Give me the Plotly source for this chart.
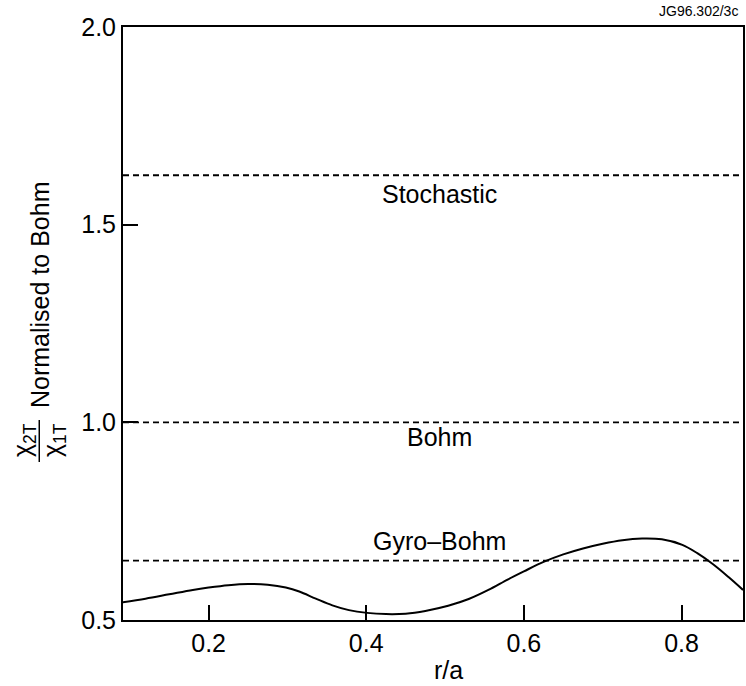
import plotly.graph_objects as go

# ---- data ----
r_a = [0.091, 0.120, 0.150, 0.180, 0.200, 0.225, 0.250, 0.275, 0.298, 0.315,
       0.336, 0.357, 0.378, 0.401, 0.425, 0.450, 0.475, 0.504, 0.530, 0.555,
       0.580, 0.600, 0.625, 0.650, 0.675, 0.700, 0.725, 0.750, 0.775, 0.801,
       0.820, 0.840, 0.860, 0.878]
chi_ratio = [0.545, 0.554, 0.565, 0.576, 0.582, 0.588, 0.591, 0.589, 0.582, 0.572,
             0.554, 0.537, 0.525, 0.518, 0.515, 0.516, 0.523, 0.536, 0.553, 0.576,
             0.603, 0.623, 0.647, 0.666, 0.681, 0.693, 0.702, 0.706, 0.704, 0.690,
             0.669, 0.641, 0.608, 0.576]

ref_names = ["Stochastic", "Bohm", "Gyro\u2013Bohm"]
ref_values = [1.625, 1.0, 0.65]
ref_label_y = [1.578, 0.962, 0.700]
label_x = 0.493

x_range = [0.0914, 0.878]
y_range = [0.5, 2.0]
x_ticks = [0.2, 0.4, 0.6, 0.8]
x_ticktext = ["0.2", "0.4", "0.6", "0.8"]
y_ticks = [0.5, 1.0, 1.5, 2.0]
y_ticktext = ["0.5", "1.0", "1.5", "2.0"]

FONT = "Liberation Sans, Arial, Helvetica, sans-serif"

fig = go.Figure()

for name, val in zip(ref_names, ref_values):
    fig.add_trace(go.Scatter(
        x=x_range, y=[val, val], mode="lines",
        line=dict(color="black", width=1.8, dash="6px,4px"),
        hoverinfo="skip", showlegend=False, name=name))

fig.add_trace(go.Scatter(
    x=r_a, y=chi_ratio, mode="lines",
    line=dict(color="black", width=2, shape="spline", smoothing=1.0),
    showlegend=False))

for name, yl in zip(ref_names, ref_label_y):
    fig.add_annotation(x=label_x, y=yl, text=name, showarrow=False,
                       xanchor="center", yanchor="middle",
                       font=dict(size=25, color="black", family=FONT))

# x-axis title
fig.add_annotation(xref="paper", yref="paper", x=0, y=0, xshift=448 - 123, yshift=-(670 - 620),
                   text="r/a", showarrow=False, xanchor="center", yanchor="middle",
                   font=dict(size=25, color="black", family=FONT))

# y-axis title pieces
fig.add_annotation(xref="paper", yref="paper", x=0, y=0, xshift=40 - 123, yshift=620 - 295,
                   text="Normalised to Bohm", textangle=-90, showarrow=False,
                   xanchor="center", yanchor="middle",
                   font=dict(size=25, color="black", family=FONT))
fig.add_annotation(xref="paper", yref="paper", x=0, y=0, xshift=24 - 123, yshift=620 - 440,
                   text="\u03c7<sub>2T</sub>", textangle=-90, showarrow=False,
                   xanchor="center", yanchor="middle",
                   font=dict(size=25, color="black", family=FONT))
fig.add_annotation(xref="paper", yref="paper", x=0, y=0, xshift=54 - 123, yshift=620 - 440,
                   text="\u03c7<sub>1T</sub>", textangle=-90, showarrow=False,
                   xanchor="center", yanchor="middle",
                   font=dict(size=25, color="black", family=FONT))
fig.add_shape(type="line", xref="paper", yref="paper",
              x0=(39 - 123) / 622, x1=(39 - 123) / 622,
              y0=(620 - 462) / 593, y1=(620 - 420) / 593,
              line=dict(color="black", width=1.5))

# figure code
fig.add_annotation(xref="paper", yref="paper", x=1, y=1, xshift=-3, yshift=6,
                   text="JG96.302/3c", showarrow=False, xanchor="right", yanchor="bottom",
                   font=dict(size=14, color="black", family=FONT))

axis_common = dict(showline=True, linecolor="black", linewidth=2, mirror=True,
                   ticks="inside", tickcolor="black", tickwidth=1.5, ticklen=15,
                   showgrid=False, zeroline=False,
                   tickfont=dict(size=25, color="black", family=FONT))

fig.update_xaxes(range=x_range, tickvals=x_ticks, ticktext=x_ticktext, **axis_common)
fig.update_yaxes(range=y_range, tickvals=y_ticks, ticktext=y_ticktext, **axis_common)

fig.update_layout(
    width=746, height=686,
    margin=dict(l=123, r=1, t=27, b=66),
    plot_bgcolor="white", paper_bgcolor="white",
    showlegend=False,
)

fig.write_html("out.html")
